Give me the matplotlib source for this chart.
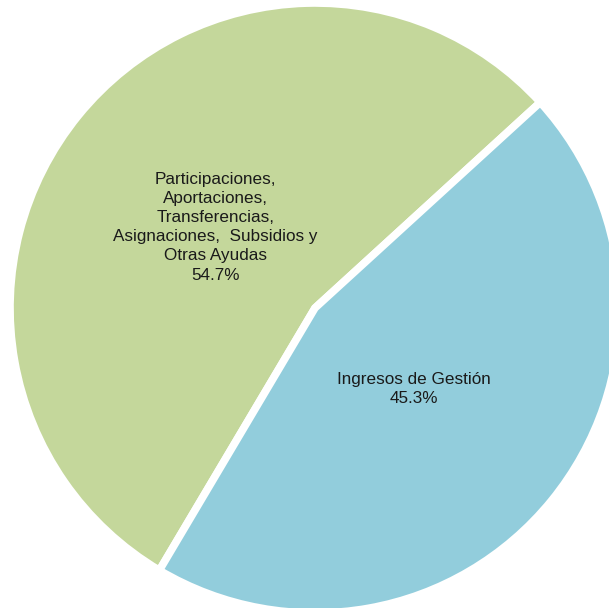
import matplotlib.pyplot as plt

categorias = ['Participaciones,\nAportaciones,\nTransferencias,\nAsignaciones,  Subsidios y\nOtras Ayudas',
              'Ingresos de Gestión']
porcentajes = [54.7, 45.3]
colores = ['#C4D79B', '#92CDDC']

etiquetas = [f'{c}\n{p}%' for c, p in zip(categorias, porcentajes)]

fig = plt.figure(figsize=(6.09, 6.08), dpi=100)
ax = fig.add_axes([0, 0, 1, 1])

wedges, texts = ax.pie(porcentajes, labels=etiquetas, colors=colores,
                       startangle=42.4, counterclock=True,
                       radius=305, center=(315, 300),
                       labeldistance=0.42,
                       wedgeprops=dict(edgecolor='white', linewidth=5.5),
                       textprops=dict(fontsize=12.3, family='Liberation Sans', color='#1a1a1a'))

for t in texts:
    t.set_horizontalalignment('center')
    t.set_verticalalignment('center')
    t.set_multialignment('center')
    t.set_linespacing(1.35)

ax.set_xlim(0, 609)
ax.set_ylim(0, 608)
ax.set_aspect('equal')
ax.axis('off')

fig.savefig('out.png', dpi=100)
